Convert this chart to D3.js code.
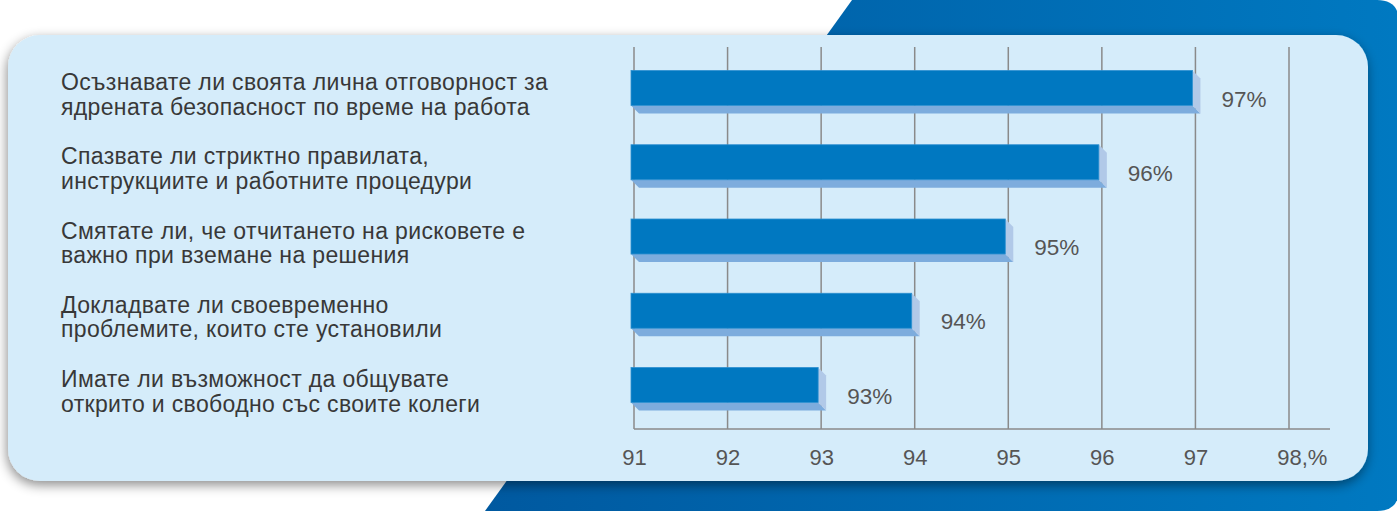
<!DOCTYPE html>
<html>
<head>
<meta charset="utf-8">
<script src="https://cdn.jsdelivr.net/npm/d3@7"></script>
<style>
  html, body { margin: 0; padding: 0; background: #ffffff; }
  svg { display: block; }
</style>
</head>
<body>
<svg id="chart" width="1397" height="511"></svg>
<script>
// ---- data ----
const categories = [
  ["Осъзнавате ли своята лична отговорност за", "ядрената безопасност по време на работа"],
  ["Спазвате ли стриктно правилата,", "инструкциите и работните процедури"],
  ["Смятате ли, че отчитането на рисковете е", "важно при вземане на решения"],
  ["Докладвате ли своевременно", "проблемите, които сте установили"],
  ["Имате ли възможност да общувате", "открито и свободно със своите колеги"]
];
const values = [97, 96, 95, 94, 93];
const tickValues = [91, 92, 93, 94, 95, 96, 97, 98];
const tickLabels = ["91", "92", "93", "94", "95", "96", "97", "98,%"];

// ---- layout ----
const W = 1397, H = 511;
const svg = d3.select("#chart");
const defs = svg.append("defs");

const bgGrad = defs.append("linearGradient").attr("id", "bgGrad")
  .attr("x1", "0").attr("y1", "0").attr("x2", "1").attr("y2", "0");
bgGrad.append("stop").attr("offset", "0").attr("stop-color", "#0059a0");
bgGrad.append("stop").attr("offset", "1").attr("stop-color", "#0079c1");

const shadow = defs.append("filter").attr("id", "shadow")
  .attr("x", "-10%").attr("y", "-20%").attr("width", "120%").attr("height", "140%");
shadow.append("feDropShadow").attr("dx", -1).attr("dy", 4)
  .attr("stdDeviation", 6).attr("flood-color", "#000").attr("flood-opacity", 0.45);

// Blue background shape (slanted left edge, rounded right corners)
const r = 22;
const bgPath = d3.path();
bgPath.moveTo(852, 0);
bgPath.lineTo(W + 2 - r, 0);
bgPath.quadraticCurveTo(W + 2, 0, W + 2, r);
bgPath.lineTo(W + 2, H - r);
bgPath.quadraticCurveTo(W + 2, H, W + 2 - r, H);
bgPath.lineTo(485, H);
bgPath.closePath();
svg.append("path").attr("d", bgPath.toString()).attr("fill", "url(#bgGrad)");

// Light panel
svg.append("rect")
  .attr("x", 8).attr("y", 35).attr("width", 1360).attr("height", 446)
  .attr("rx", 32).attr("ry", 32)
  .attr("fill", "#d5ecfa")
  .attr("filter", "url(#shadow)");

// ---- scales ----
const x = d3.scaleLinear().domain([91, 98]).range([634, 1289]);
const y = d3.scalePoint().domain(d3.range(categories.length)).range([88, 385]);
const barH = 35, depth = 8, shift = 3;
const gridTop = 47, axisY = 429, axisEnd = 1330;
const FONT = "'Liberation Sans', Arial, sans-serif";

// gridlines
svg.append("g").selectAll("line").data(tickValues).join("line")
  .attr("x1", d => x(d)).attr("x2", d => x(d))
  .attr("y1", gridTop).attr("y2", axisY)
  .attr("stroke", "#8a8a8a").attr("stroke-width", 1.5);

// axis line + labels using d3 axis
const axis = d3.axisBottom(x).tickValues(tickValues)
  .tickSize(0).tickPadding(0)
  .tickFormat((d, i) => tickLabels[i]);
const axG = svg.append("g").attr("transform", `translate(0,${axisY})`).call(axis);
axG.select(".domain").remove();
axG.selectAll(".tick text")
  .attr("y", 36).attr("dy", 0)
  .attr("font-family", FONT)
  .attr("font-size", 22).attr("fill", "#555");
svg.append("line")
  .attr("x1", x(91)).attr("x2", axisEnd).attr("y1", axisY).attr("y2", axisY)
  .attr("stroke", "#8a8a8a").attr("stroke-width", 1.5);
// last label: center "98" on its gridline, ",%" trailing
axG.selectAll(".tick text").filter((d, i) => i === tickLabels.length - 1)
  .each(function() {
    const t = d3.select(this);
    t.text("");
    t.attr("text-anchor", "start");
    t.append("tspan").text("98");
    const w = this.getComputedTextLength();
    t.attr("x", -w / 2);
    t.append("tspan").text(",%");
  });

// bars
const bars = svg.append("g").selectAll("g").data(values).join("g");
// bottom face
bars.append("path")
  .attr("d", (d, i) => {
    const x0 = x(91) - shift, x1 = x(d) - shift, yb = y(i) + barH / 2;
    return `M${x0},${yb} L${x1},${yb} L${x1 + depth},${yb + depth} L${x0 + depth},${yb + depth} Z`;
  })
  .attr("fill", "#7dacdd");
// side face
bars.append("path")
  .attr("d", (d, i) => {
    const x1 = x(d) - shift, yt = y(i) - barH / 2, yb = y(i) + barH / 2;
    return `M${x1},${yt} L${x1 + depth},${yt + depth} L${x1 + depth},${yb + depth} L${x1},${yb} Z`;
  })
  .attr("fill", "#b1c9e8");
// front face
bars.append("rect")
  .attr("x", x(91) - shift)
  .attr("y", (d, i) => y(i) - barH / 2)
  .attr("width", d => x(d) - x(91))
  .attr("height", barH)
  .attr("fill", "#0078c1")
  .attr("stroke", "#2d8fd0").attr("stroke-width", 0.8);

// value labels
svg.append("g").selectAll("text").data(values).join("text")
  .attr("x", d => x(d) + 26)
  .attr("y", (d, i) => y(i) + 18.5)
  .attr("font-family", FONT)
  .attr("font-size", 22.5).attr("fill", "#555")
  .text(d => d + "%");

// category labels
const cat = svg.append("g").selectAll("text").data(categories).join("text")
  .attr("font-family", FONT)
  .attr("font-size", 23).attr("letter-spacing", 0.35).attr("fill", "#383838");
cat.selectAll("tspan").data((d, i) => d.map(s => ({ s, i }))).join("tspan")
  .attr("x", 61)
  .attr("y", (d, j) => y(d.i) + 2 + j * 24.5)
  .text(d => d.s);
</script>
</body>
</html>
